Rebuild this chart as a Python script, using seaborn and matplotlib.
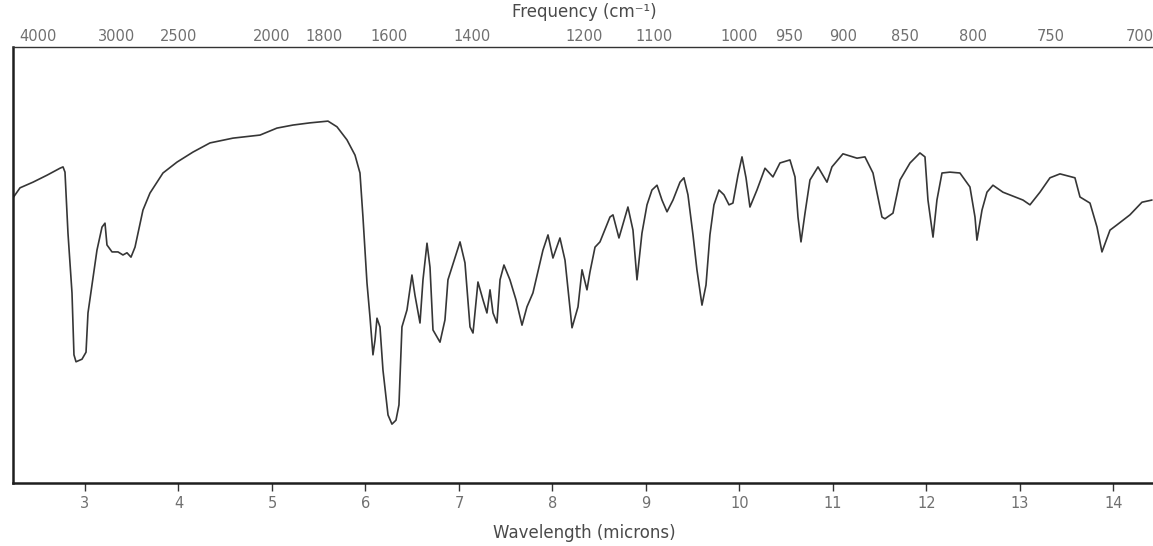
import matplotlib
matplotlib.use("Agg")
import matplotlib.pyplot as plt
import pandas as pd
import seaborn as sns

# --- data (wavelength in microns, transmittance in % of frame height)
wavelength_um = [
    2.230, 2.305, 2.444, 2.594, 2.733, 2.765, 2.786, 2.818, 2.861, 2.882, 2.904, 2.968, 3.011, 3.032,
    3.086, 3.128, 3.182, 3.214, 3.235, 3.289, 3.353, 3.406, 3.449, 3.492, 3.535, 3.567, 3.620, 3.695,
    3.834, 3.984, 4.155, 4.337, 4.583, 4.872, 5.053, 5.225, 5.406, 5.599, 5.695, 5.802, 5.888, 5.941,
    5.973, 6.016, 6.048, 6.080, 6.102, 6.123, 6.155, 6.187, 6.241, 6.283, 6.326, 6.358, 6.390, 6.444,
    6.497, 6.529, 6.583, 6.615, 6.658, 6.690, 6.722, 6.797, 6.850, 6.882, 7.011, 7.064, 7.118, 7.150,
    7.203, 7.257, 7.299, 7.332, 7.364, 7.406, 7.439, 7.481, 7.545, 7.610, 7.674, 7.727, 7.791, 7.898,
    7.952, 8.005, 8.080, 8.134, 8.209, 8.273, 8.316, 8.369, 8.401, 8.455, 8.508, 8.615, 8.647, 8.711,
    8.807, 8.861, 8.904, 8.957, 9.011, 9.064, 9.118, 9.171, 9.225, 9.289, 9.364, 9.406, 9.449, 9.503,
    9.545, 9.599, 9.642, 9.684, 9.727, 9.781, 9.834, 9.888, 9.930, 9.984, 10.027, 10.070, 10.112,
    10.187, 10.273, 10.358, 10.433, 10.540, 10.594, 10.626, 10.658, 10.701, 10.754, 10.840, 10.936,
    10.989, 11.107, 11.257, 11.342, 11.428, 11.524, 11.556, 11.642, 11.717, 11.824, 11.930, 11.984,
    12.016, 12.070, 12.112, 12.166, 12.251, 12.358, 12.465, 12.519, 12.540, 12.594, 12.647, 12.711,
    12.818, 12.925, 13.032, 13.107, 13.214, 13.321, 13.428, 13.588, 13.642, 13.749, 13.824, 13.877,
    13.963, 14.037, 14.176, 14.305, 14.412,
]
transmittance = [
    65.4, 67.7, 69.0, 70.6, 72.2, 72.5, 71.3, 57.3, 43.6, 29.4, 27.8, 28.4, 30.0, 39.0,
    47.2, 53.4, 58.7, 59.6, 54.6, 53.0, 53.0, 52.3, 52.8, 51.8, 54.1, 57.3, 62.6, 66.5,
    71.1, 73.6, 75.9, 78.0, 79.1, 79.8, 81.4, 82.1, 82.6, 83.0, 81.7, 78.7, 75.2, 71.1,
    61.0, 45.9, 38.1, 29.4, 32.8, 37.8, 35.8, 25.9, 15.6, 13.5, 14.4, 17.9, 35.8, 39.7,
    47.7, 43.1, 36.7, 46.6, 55.0, 49.5, 35.1, 32.3, 37.4, 46.6, 55.3, 50.5, 35.8, 34.4,
    46.1, 42.0, 39.0, 44.3, 39.0, 36.7, 46.6, 50.0, 46.6, 42.0, 36.2, 40.4, 43.6, 53.4,
    56.9, 51.6, 56.2, 51.1, 35.6, 40.4, 48.9, 44.3, 48.4, 54.1, 55.3, 61.0, 61.5, 56.2,
    63.3, 58.0, 46.6, 57.3, 63.8, 67.2, 68.3, 64.9, 62.2, 64.9, 69.0, 70.0, 66.1, 56.9,
    48.9, 40.8, 45.4, 56.9, 63.8, 67.2, 66.1, 63.8, 64.2, 70.6, 74.8, 70.0, 63.3,
    67.2, 72.2, 70.2, 73.4, 74.1, 70.2, 61.0, 55.3, 61.9, 69.5, 72.5, 69.0,
    72.5, 75.5, 74.5, 74.8, 71.1, 61.0, 60.6, 61.9, 69.5, 73.4, 75.7, 74.8,
    64.9, 56.4, 64.9, 71.1, 71.3, 71.1, 67.9, 61.0, 55.7, 62.6, 66.7, 68.3,
    66.7, 65.8, 64.9, 63.8, 66.7, 70.0, 70.9, 70.0, 65.6, 64.2, 58.7, 53.0,
    58.0, 59.2, 61.5, 64.4, 64.9,
]
wavelength_ticks = [3, 4, 5, 6, 7, 8, 9, 10, 11, 12, 13, 14]
frequency_ticks = [4000, 3000, 2500, 2000, 1800, 1600, 1400, 1200, 1100,
                   1000, 950, 900, 850, 800, 750, 700]

sns.set_theme(style="white")
plt.rcParams['font.family'] = ['DejaVu Sans']

W, H = 1153, 546
fig = plt.figure(figsize=(W / 100, H / 100), dpi=100)
fig.patch.set_facecolor("white")
left_px, right_px, top_px, bottom_px = 13, 1156, 47, 483
ax = fig.add_axes([left_px / W, (H - bottom_px) / H,
                   (right_px - left_px) / W, (bottom_px - top_px) / H])
ax.set_facecolor("white")

df = pd.DataFrame({"wavelength": wavelength_um, "T": transmittance})
sns.lineplot(data=df, x="wavelength", y="T", ax=ax, color="#363636",
             linewidth=1.2, sort=False, estimator=None)

ax.set_xlim(2.23, 14.455)
ax.set_ylim(0, 100)
ax.set_yticks([])
ax.set_ylabel("")
ax.set_xticks(wavelength_ticks)
ax.set_xticklabels([str(t) for t in wavelength_ticks])
ax.tick_params(axis="x", bottom=True, top=False, direction="out", length=6,
               width=1.0, color="#333333", labelcolor="#707070", labelsize=10.5, pad=3)
ax.set_xlabel("Wavelength (microns)", fontsize=12, color="#4a4a4a", labelpad=10)

for side in ["left", "bottom"]:
    ax.spines[side].set_linewidth(1.8)
    ax.spines[side].set_color("#1e1e1e")
ax.spines["top"].set_linewidth(1.0)
ax.spines["top"].set_color("#333333")
ax.spines["right"].set_visible(False)

ax2 = ax.twiny()
ax2.set_xlim(ax.get_xlim())
ax2.set_xticks([1e4 / f for f in frequency_ticks])
ax2.set_xticklabels([str(f) for f in frequency_ticks])
ax2.tick_params(axis="x", top=True, bottom=False, direction="out", length=0,
                labelcolor="#707070", labelsize=10.5, pad=2)
ax2.set_xlabel("Frequency (cm⁻¹)", fontsize=12, color="#4a4a4a", labelpad=9)
for s in ax2.spines.values():
    s.set_visible(False)
ax2.grid(False)
ax.grid(False)

fig.savefig("out.png", dpi=100, facecolor="white")
